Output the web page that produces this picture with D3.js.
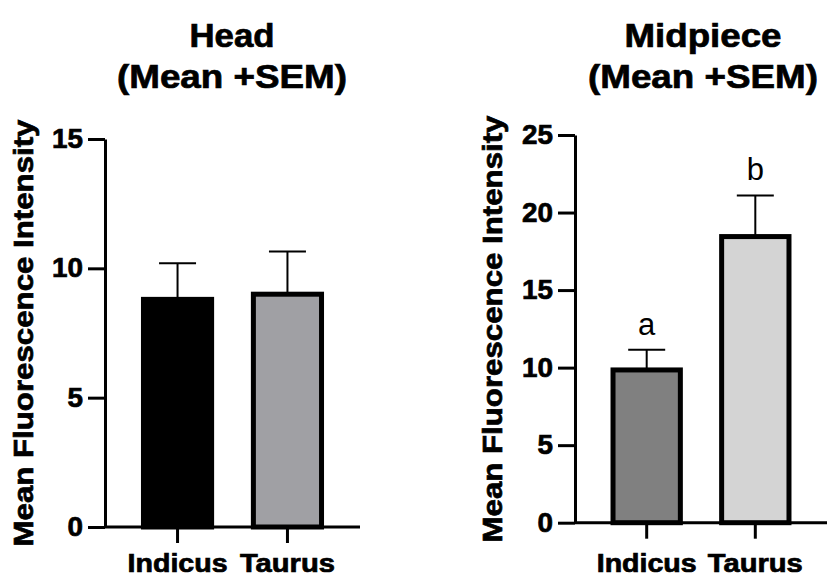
<!DOCTYPE html>
<html>
<head>
<meta charset="utf-8">
<script src="https://cdn.jsdelivr.net/npm/d3@7"></script>
<style>
  body { margin: 0; background: #fff; }
  svg { display: block; font-family: "Liberation Sans", Arial, sans-serif; }
  .axis path, .axis line { stroke: #000; stroke-width: 3; }
  .axis text { fill: #000; font-weight: bold; font-family: "Liberation Sans", Arial, sans-serif; }
  .heavy { stroke: #000; stroke-width: 0.7; paint-order: stroke; }
</style>
</head>
<body>
<script>
// data
var categories = ["Indicus", "Taurus"];

var headMean = [8.8, 9.0];
var headSem = [1.4, 1.65];
var headColors = ["#000000", "#a0a0a4"];
var headTicks = [0, 5, 10, 15];

var midMean = [9.85, 18.45];
var midSem = [1.3, 2.65];
var midColors = ["#808080", "#d4d4d4"];
var midTicks = [0, 5, 10, 15, 20, 25];
var midLetters = ["a", "b"];

var W = 827, H = 576;

var svg = d3.select("body").append("svg")
  .attr("width", W)
  .attr("height", H);

//--------------------------------------
// Panel
//--------------------------------------

function drawPanel(p) {
  var g = svg.append("g");

  var x = d3.scaleBand()
    .domain(categories)
    .range([p.left, p.right])
    .paddingInner(0.38)
    .paddingOuter(0.35);

  var y = d3.scaleLinear()
    .domain([0, d3.max(p.ticks)])
    .range([p.bottom, p.top]);

  var rows = categories.map(function(c, i) {
    return {cat: c, mean: p.mean[i], sem: p.sem[i], color: p.colors[i], letter: p.letters ? p.letters[i] : null};
  });

  // error bars (drawn first, bar covers the bottom part)
  var capW = 37;
  var eb = g.selectAll(".err").data(rows).enter().append("g").attr("class", "err");
  eb.append("line")
    .attr("x1", function(d) { return x(d.cat) + x.bandwidth()/2; })
    .attr("x2", function(d) { return x(d.cat) + x.bandwidth()/2; })
    .attr("y1", function(d) { return y(d.mean); })
    .attr("y2", function(d) { return y(d.mean + d.sem); })
    .attr("stroke", "#000").attr("stroke-width", 2);
  eb.append("line")
    .attr("x1", function(d) { return x(d.cat) + x.bandwidth()/2 - capW/2; })
    .attr("x2", function(d) { return x(d.cat) + x.bandwidth()/2 + capW/2; })
    .attr("y1", function(d) { return y(d.mean + d.sem); })
    .attr("y2", function(d) { return y(d.mean + d.sem); })
    .attr("stroke", "#000").attr("stroke-width", 2);

  // bars
  g.selectAll(".bar").data(rows).enter().append("rect")
    .attr("class", "bar")
    .attr("x", function(d) { return x(d.cat); })
    .attr("width", x.bandwidth())
    .attr("y", function(d) { return y(d.mean); })
    .attr("height", function(d) { return y(0) - y(d.mean); })
    .attr("fill", function(d) { return d.color; })
    .attr("stroke", "#000")
    .attr("stroke-width", 5);

  // significance letters
  if (p.letters) {
    g.selectAll(".sig").data(rows).enter().append("text")
      .attr("class", "sig")
      .attr("x", function(d) { return x(d.cat) + x.bandwidth()/2; })
      .attr("y", function(d) { return y(d.mean + d.sem) - 15; })
      .attr("text-anchor", "middle")
      .attr("font-size", 31)
      .text(function(d) { return d.letter; });
  }

  // y axis
  var ya = g.append("g")
    .attr("class", "axis")
    .attr("transform", "translate(" + p.left + ",0)")
    .call(d3.axisLeft(y).tickValues(p.ticks).tickSize(17).tickSizeOuter(0).tickPadding(5));
  ya.selectAll("text")
    .attr("class", "heavy")
    .attr("font-size", 27)
    .attr("textLength", function(d) { return String(d).length * 15.5; })
    .attr("lengthAdjust", "spacingAndGlyphs");

  // x axis
  var xa = g.append("g")
    .attr("class", "axis")
    .attr("transform", "translate(0," + p.bottom + ")")
    .call(d3.axisBottom(x).tickSize(16).tickSizeOuter(0).tickPadding(p.xPad));
  xa.select(".domain").attr("d", "M" + p.left + ",0H" + p.right);
  xa.selectAll("text")
    .attr("class", "heavy")
    .attr("font-size", 25.5)
    .attr("textLength", function(d) { return d === "Indicus" ? 100 : 95; })
    .attr("lengthAdjust", "spacingAndGlyphs");

  // y label
  g.append("text")
    .attr("class", "heavy")
    .attr("transform", "translate(" + p.yLabelX + "," + p.yLabelY + ") rotate(-90)")
    .attr("text-anchor", "middle")
    .attr("dy", "0.36em")
    .attr("font-size", 28.5)
    .attr("font-weight", "bold")
    .attr("textLength", 427)
    .attr("lengthAdjust", "spacingAndGlyphs")
    .text("Mean Fluorescence Intensity");

  // title
  g.selectAll(".title").data(p.title).enter().append("text")
    .attr("class", "title heavy")
    .attr("x", p.titleX)
    .attr("y", function(d, i) { return 47 + i * 41; })
    .attr("text-anchor", "middle")
    .attr("font-size", 33)
    .attr("font-weight", "bold")
    .attr("textLength", function(d) { return d.len; })
    .attr("lengthAdjust", "spacingAndGlyphs")
    .text(function(d) { return d.text; });
}

drawPanel({
  left: 105, right: 360, top: 139, bottom: 527,
  ticks: headTicks, mean: headMean, sem: headSem, colors: headColors,
  xPad: 11, yLabelX: 23, yLabelY: 333,
  titleX: 232, title: [{text: "Head", len: 85}, {text: "(Mean +SEM)", len: 230}]
});

drawPanel({
  left: 575, right: 827, top: 135, bottom: 522.7,
  ticks: midTicks, mean: midMean, sem: midSem, colors: midColors, letters: midLetters,
  xPad: 15, yLabelX: 492, yLabelY: 329,
  titleX: 703, title: [{text: "Midpiece", len: 157}, {text: "(Mean +SEM)", len: 230}]
});
</script>
</body>
</html>
